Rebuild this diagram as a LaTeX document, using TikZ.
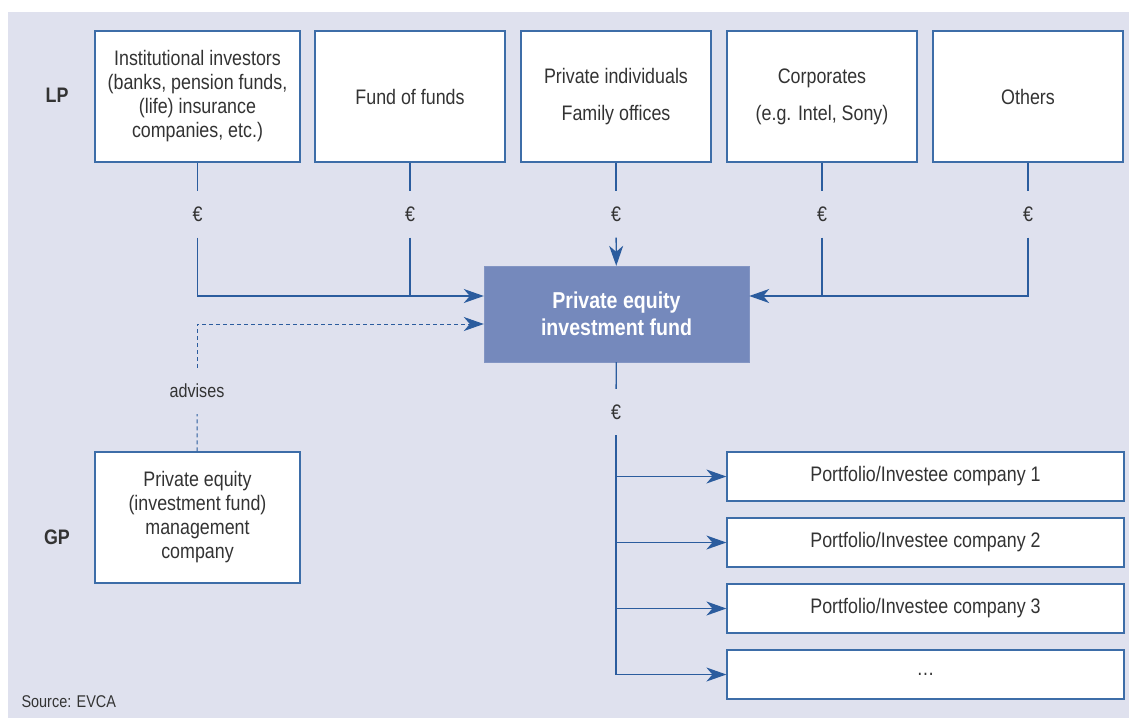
\documentclass[tikz,border=0pt]{standalone}
\usepackage{fontspec}
\setmainfont[FakeStretch=0.85]{Liberation Sans}
\usetikzlibrary{arrows.meta, positioning}
\definecolor{azul}{HTML}{2B5C9E}
\definecolor{marco}{HTML}{3D6DA8}
\definecolor{lavanda}{HTML}{DFE1EE}
\definecolor{fondoazul}{HTML}{7589BC}
\definecolor{texto}{HTML}{333333}
\tikzstyle{caja}=[draw=marco, fill=white, line width=1.2pt, inner sep=0pt,
minimum height=131pt, minimum width=190pt, align=center, text=texto,
font=\fontsize{21}{24}\selectfont]
\tikzstyle{cartera}=[caja, minimum height=49pt, minimum width=397pt]
\tikzstyle{fondo}=[fill=fondoazul, draw=fondoazul!90!white, inner sep=0pt,
minimum height=96pt, minimum width=265pt, align=center, text=white,
font=\fontsize{23}{27}\selectfont\bfseries]
\tikzstyle{euro}=[inner sep=0pt, minimum height=46pt, text=texto,
font=\fontsize{21}{24}\selectfont]
\tikzstyle{etiqueta}=[text=texto, font=\fontsize{21}{24}\selectfont\bfseries]
\tikzstyle{linea}=[draw=azul, line width=1.3pt]

\begin{document}
\begin{tikzpicture}[x=1pt, y=-1pt, >={Stealth[length=20pt, width=14pt, inset=6pt]}]
		\useasboundingbox (0,0) rectangle (1129,718);
		\fill[lavanda] (8,12) rectangle (1129,718);
		% LP
		\node[caja, minimum width=205pt] (inst) at (197.5,96.5) {Institutional investors\\(banks, pension funds,\\(life) insurance\\companies, etc.)};
		\node[caja, right=13.8pt of inst] (fof) {Fund of funds};
		\node[caja, right=14.8pt of fof] (priv) {Private individuals\\[13pt]Family offices};
		\node[caja, right=14.8pt of priv] (corp) {Corporates\\[13pt](e.g. Intel, Sony)};
		\node[caja, right=14.8pt of corp] (otros) {Others};
		\node[etiqueta] (lp) at (57,95) {LP};
		% fondo
		\node[fondo] (fund) at (616.5,314) {Private equity\\investment fund};
		\coordinate (izq) at ([yshift=18pt]fund.west);
		\coordinate (izqb) at ([yshift=-10pt]fund.west);
		\coordinate (der) at ([yshift=18pt]fund.east);
		\foreach \c/\n in {inst/e1, fof/e2, priv/e3, corp/e4, otros/e5}{
			\node[euro] (\n) at (\c |- 0,214.5) {€};
			\draw[linea] (\c) -- (\n);
		}
		\draw[linea, ->] (e1) |- (izq);
		\draw[linea] (e2) -- (e2 |- izq);
		\draw[linea, ->] (e3) -- (fund);
		\draw[linea, ->] (e5) |- (der);
		\draw[linea] (e4) -- (e4 |- der);
		% GP
		\node[caja, minimum width=205pt] (gp) at (197.5,517.5) {Private equity\\(investment fund)\\management\\company};
		\node[etiqueta] (gplabel) at (57,537) {GP};
		\node[euro, font=\fontsize{19}{22}\selectfont] (aconseja) at (197,391) {advises};
		\draw[linea, line width=1pt, dash pattern=on 4pt off 3pt] (gp) -- (aconseja);
		\draw[linea, line width=1pt, dash pattern=on 4pt off 3pt, ->] (aconseja) |- (izqb);
		% cartera
		\node[euro] (e6) at (616,412) {€};
		\draw[linea] (fund) -- (e6);
		\node[cartera] (p1) at (925.5,476.5) {Portfolio/Investee company 1};
		\node[cartera, below=15.8pt of p1] (p2) {Portfolio/Investee company 2};
		\node[cartera, below=15.8pt of p2] (p3) {Portfolio/Investee company 3};
		\node[cartera, below=15.8pt of p3] (p4) {\dots};
		\draw[linea] (e6) -- (e6 |- p4.west);
		\foreach \i in {1,...,4}
			\draw[linea, ->] (e6 |- p\i.west) -- (p\i.west);
		\node[text=texto, anchor=west, font=\fontsize{17}{20}\selectfont] (fuente) at (18,702) {Source: EVCA};
	\end{tikzpicture}
\end{document}
